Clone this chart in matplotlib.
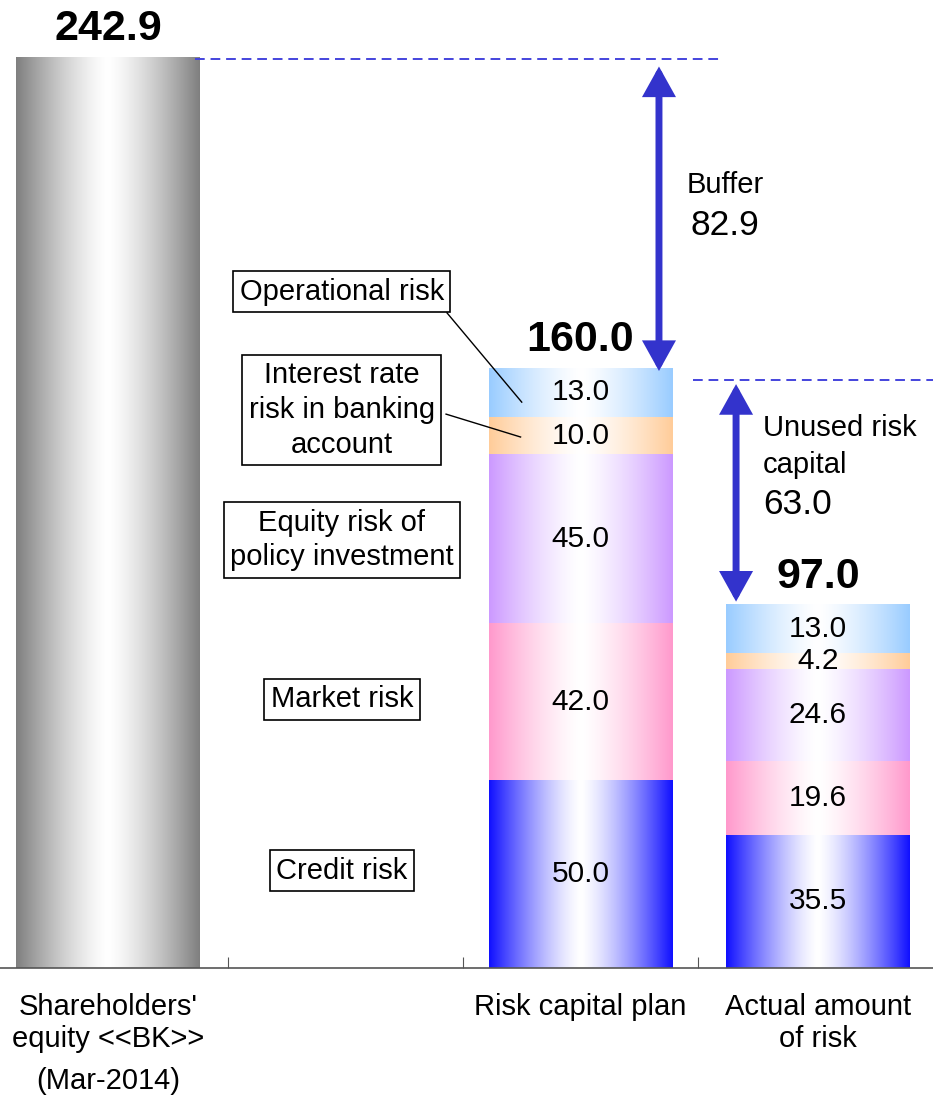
import numpy as np
import matplotlib
matplotlib.use('Agg')
import matplotlib.pyplot as plt
from matplotlib.colors import to_rgb

plt.rcParams['font.family'] = ['Liberation Sans', 'DejaVu Sans']

# data
categories = ["Shareholders'\nequity <<BK>>", "", "Risk capital plan", "Actual amount\nof risk"]
equity = 242.9
risk_names = ["Credit risk", "Market risk", "Equity risk of\npolicy investment",
              "Interest rate\nrisk in banking\naccount", "Operational risk"]
plan = [50.0, 42.0, 45.0, 10.0, 13.0]
actual = [35.5, 19.6, 24.6, 4.2, 13.0]
totals = [242.9, 160.0, 97.0]
buffer_val = 82.9
unused_val = 63.0

seg_colors = ['#1010ff', '#ff99cc', '#cc99ff', '#ffcc99', '#99ccff']
gray = '#7f7f7f'
arrow_col = '#3333cc'


def grad_bar(ax, x, y0, h, color, width=0.78):
    u = np.linspace(0, 1, 256)
    w = np.clip(np.abs(2 * u - 1), 0, 1) ** 1.35
    c = np.array(to_rgb(color))
    img = 1 - w[:, None] * (1 - c[None, :])
    ax.imshow(img[None, :, :], extent=(x - width / 2, x + width / 2, y0, y0 + h),
              aspect='auto', interpolation='bilinear', zorder=2)


fig = plt.figure(figsize=(9.33, 11.01), dpi=100)
ax = fig.add_axes([0, 133 / 1101, 1, 968 / 1101])

xs = [-0.01, 2.0, 3.01]

# equity bar
grad_bar(ax, xs[0], 0, equity, gray)

# stacked bars
for xpos, vals in [(xs[1], plan), (xs[2], actual)]:
    bottom = 0
    for v, col in zip(vals, seg_colors):
        grad_bar(ax, xpos, bottom, v, col)
        ax.text(xpos, bottom + v / 2, f'{v:.1f}', ha='center', va='center',
                fontsize=21.5, zorder=4)
        bottom += v

# totals above bars
tops = [equity, sum(plan), sum(actual)]
for xpos, top, t in zip(xs, tops, totals):
    ax.annotate(f'{t:.1f}', (xpos, top), xytext=(0, 20), textcoords='offset points',
                ha='center', va='center', fontsize=31, fontweight='bold')

# risk type boxes
box_y = [25.9, 71.7, 114.1, 148.8, 180.3]
for name, yb in zip(risk_names, box_y):
    ax.text(0.985, yb, name, ha='center', va='center', fontsize=21, linespacing=1.3,
            bbox=dict(boxstyle='square,pad=0.22', fc='white', ec='black', lw=1.2), zorder=5)

# leader lines
cum = np.cumsum([0] + plan)
ax.plot([1.432, 1.75], [174.7, cum[4] + plan[4] / 2 - 2.6], color='black', lw=1, zorder=4)
ax.plot([1.428, 1.745], [147.7, cum[3] + plan[3] / 2 - 0.4], color='black', lw=1, zorder=4)

# dashed reference lines
ax.plot([0.36, 2.594], [equity - 0.5, equity - 0.5], ls=(0, (5, 3)), color='#4444dd', lw=1.4)
ax.plot([2.479, 3.5], [sum(plan) - 3.3, sum(plan) - 3.3], ls=(0, (5, 3)), color='#4444dd', lw=1.4)

# arrows
aprops = dict(arrowstyle='<|-|>,head_length=0.36,head_width=0.2', color=arrow_col,
              lw=5, shrinkA=0, shrinkB=0, mutation_scale=40, joinstyle='miter')
ax.annotate('', xy=(2.334, equity - 2.5), xytext=(2.334, sum(plan) - 0.8), arrowprops=aprops)
ax.annotate('', xy=(2.662, sum(plan) - 4.3), xytext=(2.662, sum(actual) + 0.8), arrowprops=aprops)

ax.text(2.615, 208.8, 'Buffer', ha='center', va='center', fontsize=21)
ax.text(2.615, 197.9, f'{buffer_val:.1f}', ha='center', va='center', fontsize=25.5)
ax.text(2.777, 144.0, 'Unused risk', ha='left', va='center', fontsize=21)
ax.text(2.777, 134.1, 'capital', ha='left', va='center', fontsize=21)
ax.text(2.777, 123.5, f'{unused_val:.1f}', ha='left', va='center', fontsize=25.5)

ax.set_xlim(-0.47, 3.5)
ax.set_ylim(0, 968 / 3.75)

for s in ['top', 'right', 'left']:
    ax.spines[s].set_visible(False)
ax.spines['bottom'].set_color('#555555')
ax.spines['bottom'].set_linewidth(1.2)
ax.set_yticks([])
ax.set_xticks([0.5, 1.5, 2.5])
ax.set_xticklabels([])
ax.tick_params(axis='x', which='major', direction='in', length=8, color='#555555')
ax.set_xticks([-0.01, 1.0, 2.0, 3.01], minor=True)
ax.set_xticklabels(categories, minor=True, fontsize=21, linespacing=1.2)
ax.tick_params(axis='x', which='minor', length=0, pad=18)
ax.text(-0.01, -30.2, '(Mar-2014)', ha='center', va='center', fontsize=21, clip_on=False)

fig.savefig('out.png', dpi=100)
